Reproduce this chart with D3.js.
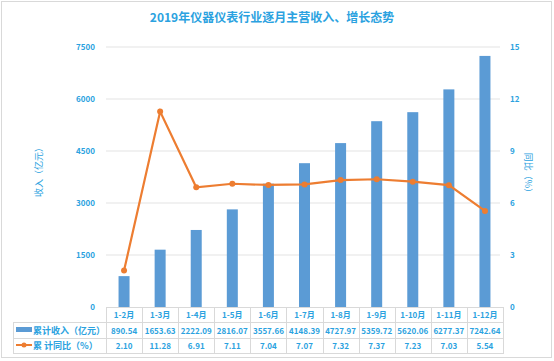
<!DOCTYPE html>
<html><head><meta charset="utf-8">
<script src="https://cdn.jsdelivr.net/npm/d3@7/dist/d3.min.js"></script>
<style>body{margin:0;background:#fff}svg{display:block}text{font-family:"Noto Sans CJK SC","Noto Sans",sans-serif}</style>
</head><body><svg id="c" width="554" height="361"></svg>
<script>
const categories=["1-2月","1-3月","1-4月","1-5月","1-6月","1-7月","1-8月","1-9月","1-10月","1-11月","1-12月"];
const revenue=[890.54,1653.63,2222.09,2816.07,3557.66,4148.39,4727.97,5359.72,5620.06,6277.37,7242.64];
const growth=[2.10,11.28,6.91,7.11,7.04,7.07,7.32,7.37,7.23,7.03,5.54];
const leftTicks=[0,1500,3000,4500,6000,7500];
const rightTicks=[0,3,6,9,12,15];
const seriesNames=["累计收入（亿元）","累 计同比（%）"];

const blue="#5b9bd5",orange="#ed7d31",txt="#2ba2e0",grid="#e3e3e3",border="#d9d9d9";
const svg=d3.select("#c");
svg.append("rect").attr("x",1.5).attr("y",1.5).attr("width",550).attr("height",356).attr("fill","#fff").attr("stroke",border);

const x0=106,x1=503,yTop=47,yBot=307;
const x=d3.scaleBand().domain(categories).range([x0,x1]);
const yL=d3.scaleLinear().domain([0,7500]).range([yBot,yTop]);
const yR=d3.scaleLinear().domain([0,15]).range([yBot,yTop]);

svg.append("text").attr("x",272).attr("y",22).attr("text-anchor","middle").attr("fill",txt)
  .attr("font-size",12).attr("font-weight","bold").text("2019年仪器仪表行业逐月主营收入、增长态势");

// grid
svg.append("g").selectAll("line").data(leftTicks.filter(d=>d>0)).join("line")
  .attr("x1",x0).attr("x2",500).attr("y1",d=>yL(d)).attr("y2",d=>yL(d)).attr("stroke",grid);

// axes
const gl=svg.append("g").attr("transform",`translate(95,0)`).call(d3.axisLeft(yL).tickValues(leftTicks).tickFormat(d3.format("d")).tickSize(0).tickPadding(0));
gl.select(".domain").remove();
gl.selectAll("text").attr("fill",txt).attr("font-size",8).attr("font-weight","bold");
const gr=svg.append("g").attr("transform",`translate(510,0)`).call(d3.axisRight(yR).tickValues(rightTicks).tickFormat(d3.format("d")).tickSize(0).tickPadding(0));
gr.select(".domain").remove();
gr.selectAll("text").attr("fill",txt).attr("font-size",8).attr("font-weight","bold");

svg.append("text").attr("transform","translate(42,170) rotate(-90)").attr("text-anchor","middle")
  .attr("fill",txt).attr("font-size",9).text("收入（亿元）");
svg.append("text").attr("transform","translate(525,175) rotate(90)").attr("text-anchor","middle")
  .attr("fill",txt).attr("font-size",9).text("同比（%）");

// bars
const bw=11;
svg.append("g").selectAll("rect").data(revenue).join("rect")
  .attr("x",(d,i)=>x(categories[i])+x.bandwidth()/2-bw/2).attr("width",bw)
  .attr("y",d=>yL(d)).attr("height",d=>yBot-yL(d)).attr("fill",blue);

// line
const line=d3.line().x((d,i)=>x(categories[i])+x.bandwidth()/2).y(d=>yR(d));
svg.append("path").datum(growth).attr("d",line).attr("fill","none").attr("stroke",orange).attr("stroke-width",2.2);
svg.append("g").selectAll("circle").data(growth).join("circle")
  .attr("cx",(d,i)=>x(categories[i])+x.bandwidth()/2).attr("cy",d=>yR(d)).attr("r",3).attr("fill",orange);

// table
const tg=svg.append("g");
const lx=13;
tg.append("line").attr("x1",x0).attr("x2",x1).attr("y1",307.5).attr("y2",307.5).attr("stroke",border);
[322.5,338.5,353.5].forEach(yy=>tg.append("line").attr("x1",lx).attr("x2",x1).attr("y1",yy).attr("y2",yy).attr("stroke",border));
categories.forEach(c=>tg.append("line").attr("x1",Math.round(x(c))+0.5).attr("x2",Math.round(x(c))+0.5).attr("y1",307).attr("y2",354).attr("stroke",border));
tg.append("line").attr("x1",x1+0.5).attr("x2",x1+0.5).attr("y1",307).attr("y2",354).attr("stroke",border);
tg.append("line").attr("x1",lx+0.5).attr("x2",lx+0.5).attr("y1",322).attr("y2",354).attr("stroke",border);

const cx=c=>x(c)+x.bandwidth()/2;
tg.selectAll("text.h").data(categories).join("text").attr("class","h")
  .attr("x",cx).attr("y",318).attr("text-anchor","middle").attr("fill",txt).attr("font-size",8).attr("font-weight","bold").text(d=>d);
tg.selectAll("text.r").data(revenue).join("text").attr("class","r")
  .attr("x",(d,i)=>cx(categories[i])).attr("y",334).attr("text-anchor","middle").attr("fill",txt).attr("font-size",8).attr("font-weight","bold").text(d=>d.toFixed(2));
tg.selectAll("text.g").data(growth).join("text").attr("class","g")
  .attr("x",(d,i)=>cx(categories[i])).attr("y",349).attr("text-anchor","middle").attr("fill",txt).attr("font-size",8).attr("font-weight","bold").text(d=>d.toFixed(2));

tg.append("rect").attr("x",16).attr("y",327).attr("width",16).attr("height",5).attr("fill",blue);
tg.append("line").attr("x1",16).attr("x2",32).attr("y1",345).attr("y2",345).attr("stroke",orange).attr("stroke-width",2);
tg.append("circle").attr("cx",24).attr("cy",345).attr("r",2.5).attr("fill",orange);
tg.append("text").attr("x",33).attr("y",334).attr("fill",txt).attr("font-size",9).attr("font-weight","bold").text(seriesNames[0]);
tg.append("text").attr("x",33).attr("y",349).attr("fill",txt).attr("font-size",9).attr("font-weight","bold").text(seriesNames[1]);
</script></body></html>
